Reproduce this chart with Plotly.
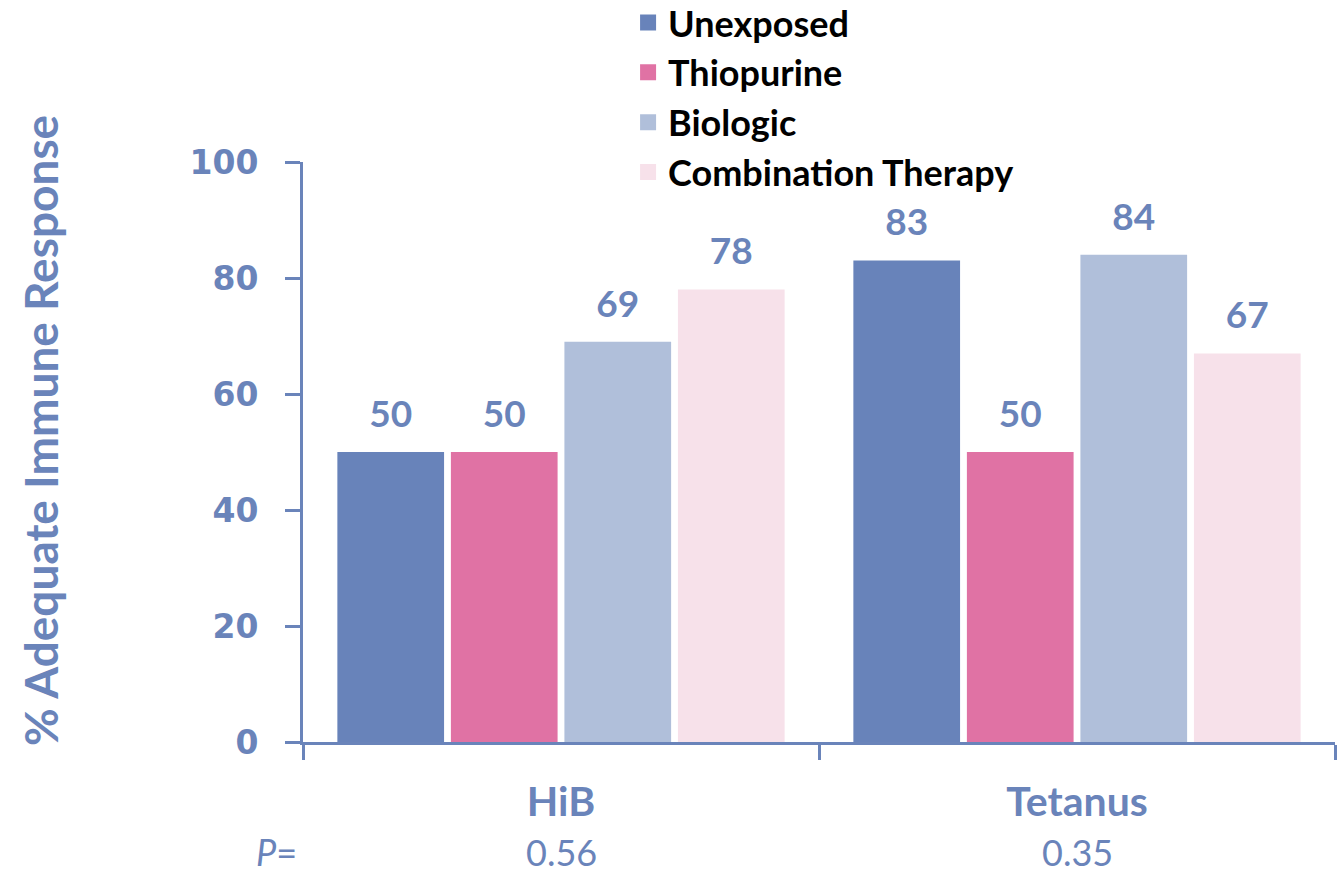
import plotly.graph_objects as go

vaccines = ["HiB", "Tetanus"]
p_values = ["0.56", "0.35"]
groups = ["Unexposed", "Thiopurine", "Biologic", "Combination Therapy"]
unexposed = [50, 83]
thiopurine = [50, 50]
biologic = [69, 84]
combination = [78, 67]
series = [unexposed, thiopurine, biologic, combination]
colors = ["#6883BA", "#E072A4", "#B0BFDA", "#F7E1EA"]

AXIS = "#6A84BA"
BODY = "Lato, 'Open Sans', sans-serif"
TICKF = "'DejaVu Sans', Verdana, sans-serif"

fig = go.Figure()
for i, (name, vals, col) in enumerate(zip(groups, series, colors)):
    fig.add_trace(go.Bar(
        x=vaccines, y=vals, name=name, marker=dict(color=col, line=dict(width=0)),
        offsetgroup=str(i), showlegend=False,
    ))
# value labels placed above each bar
for i, vals in enumerate(series):
    fig.add_trace(go.Scatter(
        x=vaccines, y=vals, mode="markers+text", text=[str(v) for v in vals],
        textposition="top center", offsetgroup=str(i), showlegend=False,
        marker=dict(size=24, opacity=0), hoverinfo="skip", cliponaxis=False,
        textfont=dict(family=BODY, size=37, color=AXIS, weight="bold"),
    ))
# square legend swatches
for name, col in zip(groups, colors):
    fig.add_trace(go.Scatter(
        x=[None], y=[None], mode="markers", name=name,
        marker=dict(symbol="square", size=18, color=col),
    ))

fig.update_layout(
    width=1342, height=875,
    margin=dict(l=303, r=7, t=162, b=133, autoexpand=False),
    plot_bgcolor="white", paper_bgcolor="white",
    barmode="group", scattermode="group",
    bargap=0.12, bargroupgap=0.06,
    showlegend=True,
    legend=dict(
        x=0.315, y=1.292, xanchor="left", yanchor="top",
        font=dict(family=BODY, size=36, color="black", weight="bold"),
        itemsizing="trace", bgcolor="rgba(0,0,0,0)",
    ),
    xaxis=dict(
        showline=True, linecolor=AXIS, linewidth=3,
        ticks="outside", tickson="boundaries", ticklen=15, tickwidth=3, tickcolor=AXIS,
        tickfont=dict(family=BODY, size=41, color=AXIS, weight="bold"),
        ticklabelstandoff=22,
    ),
    yaxis=dict(
        range=[0, 100], tickvals=[0, 20, 40, 60, 80, 100],
        showline=True, linecolor=AXIS, linewidth=3, showgrid=False, zeroline=False,
        ticks="outside", ticklen=15, tickwidth=3, tickcolor=AXIS,
        tickfont=dict(family=TICKF, size=33, color=AXIS, weight="bold"),
        ticklabelstandoff=20,
    ),
)

# vertical axis title
fig.add_annotation(x=0, y=0.536, xref="paper", yref="paper", xanchor="center", yanchor="middle",
                   showarrow=False, xshift=-263, textangle=-90,
                   text="% Adequate Immune Response",
                   font=dict(family=BODY, size=46, color=AXIS, weight="bold"))

# P-value row under the category labels
for v, p in zip(vaccines, p_values):
    fig.add_annotation(x=v, y=0, xref="x", yref="paper", yanchor="top", showarrow=False,
                       yshift=-86, text=p,
                       font=dict(family=BODY, size=36, color=AXIS))
fig.add_annotation(x=0, y=0, xref="paper", yref="paper", xanchor="right", yanchor="top",
                   showarrow=False, xshift=-4, yshift=-86, text="<i>P</i>=",
                   font=dict(family=BODY, size=36, color=AXIS))

fig.write_html("out.html")
